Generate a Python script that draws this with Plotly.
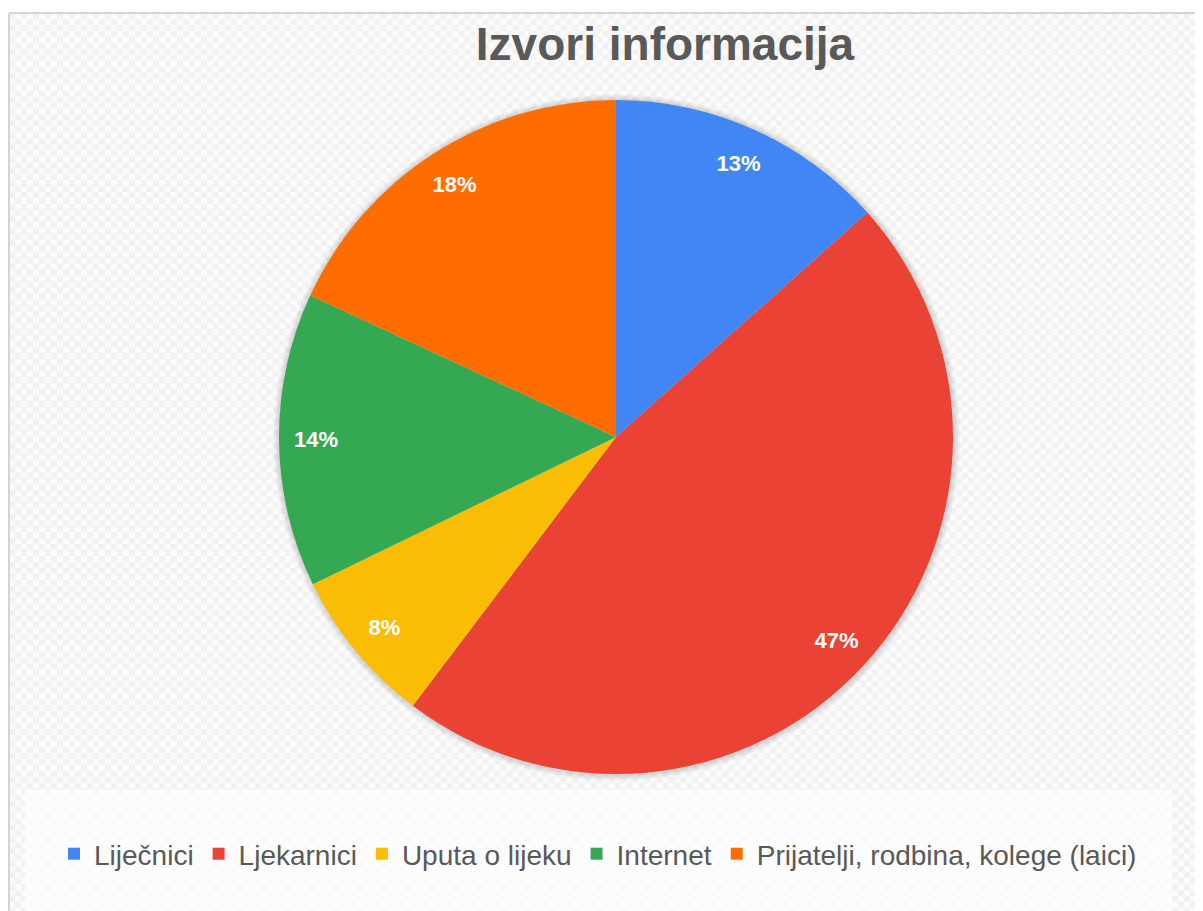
import base64
import plotly.graph_objects as go

# ---- data ----
categories = ["Liječnici", "Ljekarnici", "Uputa o lijeku", "Internet",
              "Prijatelji, rodbina, kolege (laici)"]
values = [13.4, 46.9, 7.5, 14.1, 18.1]
colors = ["#4285F4", "#EA4335", "#FBBC04", "#34A853", "#FF6D01"]
title_text = "Izvori informacija"

# ---- layout constants (page pixels) ----
PAGE_W, PAGE_H = 1203, 911
OFF = 8  # default body margin of the html page
W, H = PAGE_W - OFF, PAGE_H - OFF
CX, CY, R = 616, 437, 337
FONT = "Arial, Liberation Sans, sans-serif"
GREY = "#595959"

def px(x):
    return (x - OFF) / W

def py(y):
    return 1 - (y - OFF) / H

dom_x = [px(CX - R), px(CX + R)]
dom_y = [py(CY + R), py(CY - R)]

fig = go.Figure()

# main pie
fig.add_trace(go.Pie(
    labels=categories, values=values, sort=False, direction="clockwise",
    marker=dict(colors=colors, line=dict(width=0)),
    textinfo="none", domain=dict(x=dom_x, y=dom_y),
    hovertemplate="%{label}: %{percent}<extra></extra>",
))
# transparent ring that carries the percentage labels near the outer edge
fig.add_trace(go.Pie(
    labels=categories, values=values, sort=False, direction="clockwise",
    hole=0.78, showlegend=False, hoverinfo="skip",
    marker=dict(colors=["rgba(0,0,0,0)"] * len(values), line=dict(width=0)),
    texttemplate="%{percent:.0%}", textposition="inside",
    insidetextorientation="horizontal",
    textfont=dict(family=FONT, size=22, color="white", weight="bold"),
    domain=dict(x=dom_x, y=dom_y),
))

# checkered background image
svg = (f'<svg xmlns="http://www.w3.org/2000/svg" width="{W}" height="{H}">'
       '<defs><pattern id="p" width="12" height="12" patternUnits="userSpaceOnUse">'
       '<rect width="12" height="12" fill="#fbfbfb"/>'
       '<rect width="6" height="6" fill="#f2f2f2"/>'
       '<rect x="6" y="6" width="6" height="6" fill="#f2f2f2"/>'
       '</pattern></defs>'
       f'<rect width="{W}" height="{H}" fill="url(#p)"/></svg>')
src = "data:image/svg+xml;base64," + base64.b64encode(svg.encode()).decode()

shapes = []
# soft shadow around pie
for k in range(1, 7):
    shapes.append(dict(type="circle", xref="paper", yref="paper", layer="below",
                       x0=px(CX - R - k), x1=px(CX + R + k + 1),
                       y0=py(CY + R + k + 1), y1=py(CY - R - k),
                       fillcolor="rgba(0,0,0,0.025)", line=dict(width=0)))
# legend box
shapes.append(dict(type="rect", xref="paper", yref="paper", layer="below",
                   x0=px(25), x1=px(1172), y0=0, y1=py(790),
                   fillcolor="rgba(255,255,255,0.65)", line=dict(width=0)))
# chart border
shapes.append(dict(type="line", xref="paper", yref="paper", layer="above",
                   x0=px(9), x1=1, y0=py(13), y1=py(13),
                   line=dict(color="#d4d4d4", width=2)))
shapes.append(dict(type="line", xref="paper", yref="paper", layer="above",
                   x0=px(9), x1=px(9), y0=0, y1=py(13),
                   line=dict(color="#d4d4d4", width=2)))

fig.update_layout(
    width=W, height=H,
    margin=dict(l=0, r=0, t=0, b=0),
    paper_bgcolor="white", plot_bgcolor="white",
    images=[dict(source=src, xref="paper", yref="paper", x=px(9), y=py(13),
                 sizex=1 - px(9), sizey=py(13), sizing="stretch",
                 xanchor="left", yanchor="top", layer="below")],
    shapes=shapes,
    title=dict(text=title_text, x=px(665), xanchor="center",
               y=py(44), yanchor="middle", xref="paper", yref="paper",
               font=dict(family=FONT, size=46, color=GREY, weight="bold")),
    legend=dict(orientation="h", x=px(598), xanchor="center",
                y=py(854), yanchor="middle",
                font=dict(family=FONT, size=28, color=GREY),
                bgcolor="rgba(0,0,0,0)", itemwidth=30),
    font=dict(family=FONT),
)

fig.write_html("out.html")
